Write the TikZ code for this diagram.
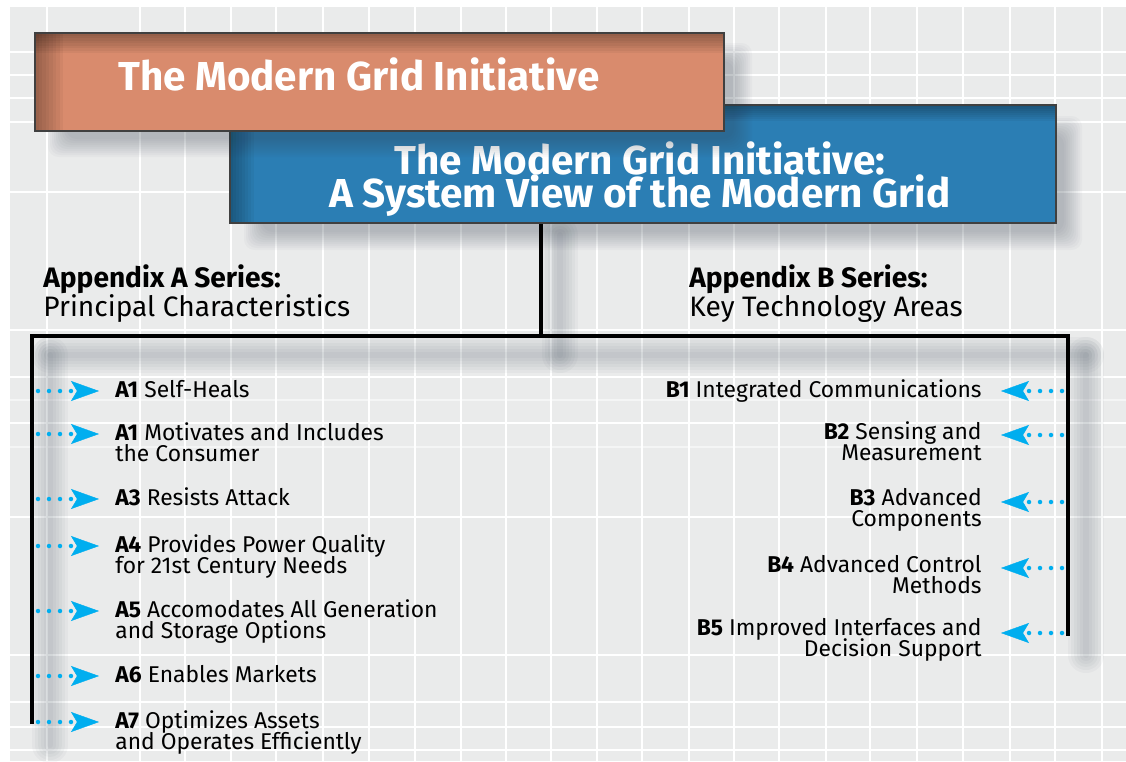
\documentclass[tikz,border=0pt]{standalone}
\usepackage{fontspec}
\setmainfont{Fira Sans}
\usetikzlibrary{arrows.meta,positioning,calc}
\definecolor{gridbg}{HTML}{EAEBEB}
\definecolor{initorange}{HTML}{D98B6D}
\definecolor{sysblue}{HTML}{2B7EB4}
\definecolor{feedcyan}{HTML}{00AEEF}
\definecolor{shadowtone}{HTML}{2F3C4C}
% tight leading, no lineskip fallback
\newcommand{\titlesize}{\fontsize{23}{18.5}\selectfont\bfseries\lineskiplimit=-40pt\relax}
\newcommand{\headsize}{\fontsize{16}{16.4}\selectfont\lineskiplimit=-40pt\relax}
\newcommand{\itemsize}{\fontsize{13}{11.9}\selectfont\lineskiplimit=-40pt\relax}
% soft drop shadows, stacked strokes / fills
\newcommand{\softline}[2]{\foreach \w in {36,30,24,18,12,6}{\draw[shadowtone,opacity=0.035,line width={0.57*\w},line cap=round] #1 -- #2;}}
\newcommand{\softbox}[2]{\foreach \s in {0,2,...,18}{\fill[shadowtone,opacity=0.03,rounded corners=6pt] ($#1+(\s,\s)$) rectangle ($#2-(\s,\s)$);}}
% darker rim along the top and left edge of a title box
\newcommand{\rim}[2]{%
  \foreach \k in {1,...,8}{\fill[black,opacity=0.04] (path picture bounding box.north west) rectangle ([xshift=\k*#1]path picture bounding box.south west);}%
  \foreach \k in {1,...,8}{\fill[black,opacity=0.045] (path picture bounding box.north west) rectangle ([yshift=-\k*#2]path picture bounding box.north east);}}
\tikzset{
  gridline/.style={white,line width=1.4pt},
  faintline/.style={white,opacity=0.5,line width=1.2pt},
  initbox/.style={draw=black!75,line width=1.2pt,fill=initorange,inner sep=0pt,
    minimum width=13.78cm,minimum height=1.96cm,path picture={\rim{0.07cm}{0.05cm}}},
  sysbox/.style={draw=black!75,line width=1.2pt,fill=sysblue,inner sep=0pt,
    minimum width=16.52cm,minimum height=2.36cm,path picture={\rim{0.06cm}{0.04cm}}},
  titletext/.style={text=white,font=\titlesize,inner sep=0pt},
  header/.style={font=\headsize,align=left,anchor=base west,inner sep=0pt},
  bus/.style={black,line width=2.3pt},
  itemA/.style={font=\itemsize,align=left,anchor=base west,inner xsep=0.32cm,inner ysep=0pt},
  itemB/.style={font=\itemsize,align=right,anchor=base east,inner xsep=0.38cm,inner ysep=0pt},
  feed/.style={feedcyan,line width=0.09cm,line cap=round,dash pattern=on 0pt off 0.22cm,
    -{Stealth[length=0.56cm,width=0.4cm,inset=0.12cm,line width=0.2pt]}},
}

\begin{document}
\begin{tikzpicture}[x=0.02cm,y=-0.02cm]
  \useasboundingbox (0,0) rectangle (1126,761);
  % backdrop grid
  \fill[gridbg] (10,7) rectangle (1126,761);
  \foreach \gx in {47,140,185,231,276,323,369,415,461,506,551,597,642,689,734,779,826,870,917,963,1010,1055,1102}
    \draw[gridline] (\gx,7) -- (\gx,761);
  \foreach \gy in {52,75,98,122,192,330,377,423,517,655,702,727,750}
    \draw[gridline] (10,\gy) -- (1126,\gy);
  \foreach \gy in {400,447}
    \draw[faintline] (10,\gy) -- (1126,\gy);

  % shadows under the tree lines and the system box
  \softline{(560,235)}{(560,355)}
  \softline{(50,355)}{(1086,355)}
  \softline{(50,355)}{(50,745)}
  \softline{(1086,355)}{(1086,655)}
  \softbox{(244,116)}{(1082,250)}

  \node[sysbox] (sysview) at (643,164) {};
  % multi-line nodes sit on their last baseline
  \node[titletext,align=center,anchor=base] (sysviewtitle) at (640,207) {The Modern Grid Initiative:\\A System View of the Modern Grid};

  \softbox{(48,43)}{(752,157)}
  \node[initbox] (initiative) at (379.5,82) {};
  \node[titletext,anchor=base west] (initiativetitle) at (118,90) {The Modern Grid Initiative};

  % tree
  \coordinate (jct) at (541,336);
  \coordinate (busL) at (32,724);
  \coordinate (busR) at (1068,636);
  \draw[bus] (sysview.south -| jct) -- (jct);
  \draw[bus] (busL) -- (busL |- jct) -- (busR |- jct) -- (busR);

  \node[header] (appA) at (43,316) {\textbf{Appendix A Series:}\\Principal Characteristics};
  \node[header] (appB) at (689,316) {\textbf{Appendix B Series:}\\Key Technology Areas};

  % principal characteristics
  \coordinate (sa1) at (38,391);
  \coordinate (sa2) at (38,434);
  \coordinate (sa3) at (38,499);
  \coordinate (sa4) at (38,546);
  \coordinate (sa5) at (38,611);
  \coordinate (sa6) at (38,676);
  \coordinate (sa7) at (38,722);
  \node[itemA] (a1) at (99,397) {\textbf{A1} Self-Heals};
  \node[itemA] (a2) at (99,461) {\textbf{A1} Motivates and Includes\\the Consumer};
  \node[itemA] (a3) at (99,505) {\textbf{A3} Resists Attack};
  \node[itemA] (a4) at (99,573) {\textbf{A4} Provides Power Quality\\for 21st Century Needs};
  \node[itemA] (a5) at (99,638) {\textbf{A5} Accomodates All Generation\\and Storage Options};
  \node[itemA] (a6) at (99,682) {\textbf{A6} Enables Markets};
  \node[itemA] (a7) at (99,749) {\textbf{A7} Optimizes Assets\\and Operates Efficiently};
  \draw[feed] (sa1) -- (sa1 -| a1.west);
  \draw[feed] (sa2) -- (sa2 -| a2.west);
  \draw[feed] (sa3) -- (sa3 -| a3.west);
  \draw[feed] (sa4) -- (sa4 -| a4.west);
  \draw[feed] (sa5) -- (sa5 -| a5.west);
  \draw[feed] (sa6) -- (sa6 -| a6.west);
  \draw[feed] (sa7) -- (sa7 -| a7.west);

  % key technology areas
  \coordinate (sb1) at (1062,391);
  \coordinate (sb2) at (1062,435);
  \coordinate (sb3) at (1062,502);
  \coordinate (sb4) at (1062,568);
  \coordinate (sb5) at (1062,633);
  \node[itemB] (b1) at (1001,397) {\textbf{B1} Integrated Communications};
  \node[itemB] (b2) at (1001,460) {\textbf{B2} Sensing and\\Measurement};
  \node[itemB] (b3) at (1001,526) {\textbf{B3} Advanced\\Components};
  \node[itemB] (b4) at (1001,593) {\textbf{B4} Advanced Control\\Methods};
  \node[itemB] (b5) at (1001,656) {\textbf{B5} Improved Interfaces and\\Decision Support};
  \draw[feed] (sb1) -- (sb1 -| b1.east);
  \draw[feed] (sb2) -- (sb2 -| b2.east);
  \draw[feed] (sb3) -- (sb3 -| b3.east);
  \draw[feed] (sb4) -- (sb4 -| b4.east);
  \draw[feed] (sb5) -- (sb5 -| b5.east);
\end{tikzpicture}
\end{document}
